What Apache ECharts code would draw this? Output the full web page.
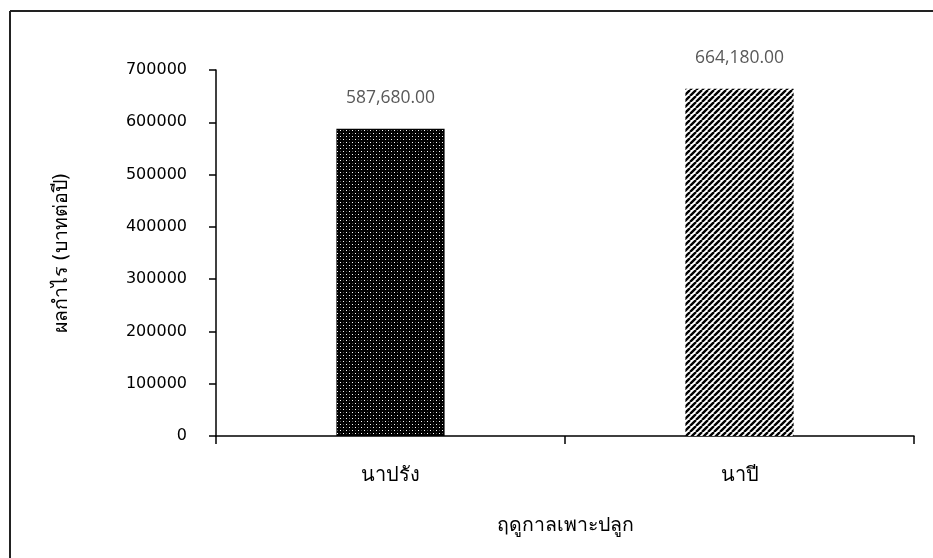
<!DOCTYPE html>
<html>
<head>
<meta charset="utf-8">
<script src="https://cdn.jsdelivr.net/npm/echarts@6/dist/echarts.min.js"></script>
<style>
  html, body { margin: 0; padding: 0; background: #fff; }
  #chart { width: 933px; height: 558px; }
</style>
</head>
<body>
<div id="chart"></div>
<script>
// Seasons and annual profit (baht per year)
const seasons = ['นาปรัง', 'นาปี'];
const profits = [587680, 664180];
const yTicks = [0, 100000, 200000, 300000, 400000, 500000, 600000, 700000];

// Fill patterns: a dense dotted pattern and a diagonal hatch
function dotPattern() {
  const c = document.createElement('canvas');
  c.width = 6; c.height = 6;
  const g = c.getContext('2d');
  g.fillStyle = '#000';
  g.fillRect(0, 0, 6, 6);
  g.fillStyle = '#fff';
  g.fillRect(1, 1, 1, 1);
  g.fillRect(4, 4, 1, 1);
  g.fillStyle = '#555';
  g.fillRect(4, 1, 1, 1);
  g.fillRect(1, 4, 1, 1);
  return c;
}
function hatchPattern() {
  const c = document.createElement('canvas');
  c.width = 6; c.height = 6;
  const g = c.getContext('2d');
  g.fillStyle = '#fff';
  g.fillRect(0, 0, 6, 6);
  g.strokeStyle = '#000';
  g.lineWidth = 2.4;
  g.beginPath();
  for (let k = -6; k <= 12; k += 6) {
    g.moveTo(k, 6);
    g.lineTo(k + 6, 0);
  }
  g.stroke();
  return c;
}
const fills = [
  { image: dotPattern(), repeat: 'repeat' },
  { image: hatchPattern(), repeat: 'repeat' }
];

const fmt = v => v.toLocaleString('en-US', { minimumFractionDigits: 2, maximumFractionDigits: 2 });

const chart = echarts.init(document.getElementById('chart'), null, { renderer: 'canvas' });
chart.setOption({
  animation: false,
  backgroundColor: '#fff',
  textStyle: { fontFamily: 'DejaVu Sans, Noto Sans, sans-serif' },
  grid: { left: 216, top: 70, right: 19, bottom: 122, containLabel: false },
  graphic: [
    { type: 'line', shape: { x1: 10, y1: 11, x2: 933, y2: 11 }, style: { stroke: '#222', lineWidth: 2 } },
    { type: 'line', shape: { x1: 10, y1: 11, x2: 10, y2: 558 }, style: { stroke: '#222', lineWidth: 2 } }
  ],
  xAxis: {
    type: 'category',
    data: seasons,
    name: 'ฤดูกาลเพาะปลูก',
    nameLocation: 'middle',
    nameGap: 80,
    nameTextStyle: { color: '#000', fontSize: 19.5 },
    axisLine: { lineStyle: { color: '#000', width: 1.5 } },
    axisTick: { show: true, alignWithLabel: false, length: 8, lineStyle: { color: '#000', width: 1.5 } },
    axisLabel: { color: '#000', fontSize: 20, margin: 30 }
  },
  yAxis: {
    type: 'value',
    min: yTicks[0],
    max: yTicks[yTicks.length - 1],
    interval: 100000,
    name: 'ผลกำไร (บาทต่อปี)',
    nameLocation: 'middle',
    nameRotate: 90,
    nameGap: 144,
    nameTextStyle: { color: '#000', fontSize: 19.5 },
    axisLine: { show: true, lineStyle: { color: '#000', width: 1.5 } },
    axisTick: { show: true, length: 7, lineStyle: { color: '#000', width: 1.5 } },
    axisLabel: { color: '#000', fontSize: 16, margin: 29, formatter: v => String(v) },
    splitLine: { show: false }
  },
  series: [{
    type: 'bar',
    barWidth: '31%',
    data: profits.map((v, i) => ({ value: v, itemStyle: { color: fills[i] } })),
    label: {
      show: true,
      position: 'top',
      distance: 22,
      color: '#595959',
      fontSize: 17.5,
      fontFamily: 'Open Sans, Noto Sans, sans-serif',
      formatter: p => fmt(p.value)
    }
  }]
});
</script>
</body>
</html>
